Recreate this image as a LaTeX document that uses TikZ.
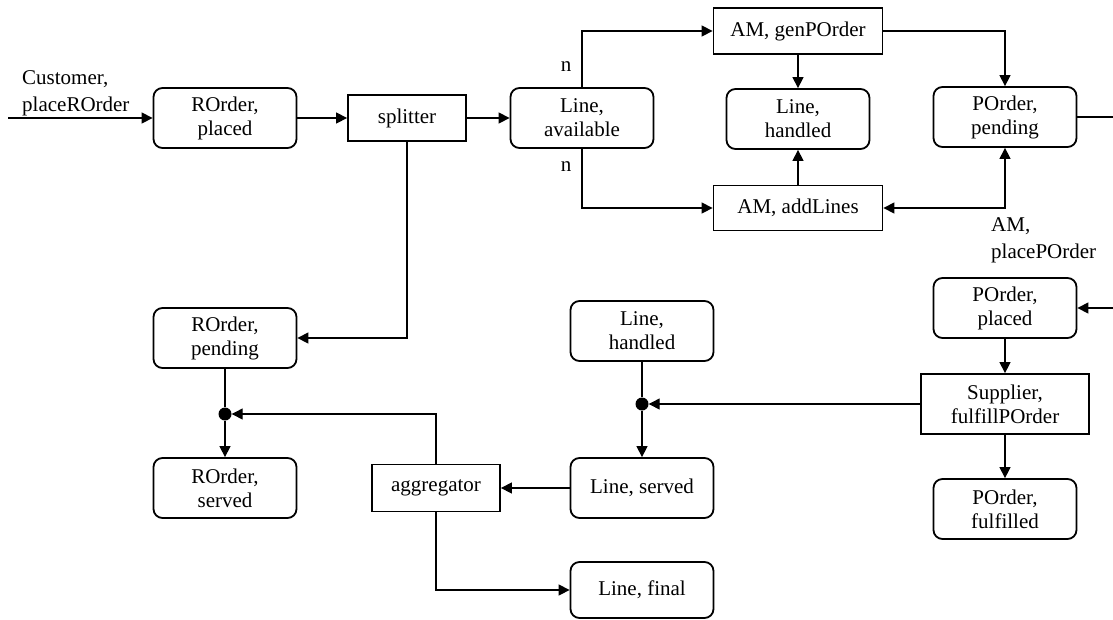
\documentclass[tikz,border=0pt]{standalone}
\usepackage{fontspec}
\setmainfont{Liberation Serif}
\usetikzlibrary{arrows.meta}
\begin{document}
\begin{tikzpicture}[x=1pt,y=-1pt,
  every node/.style={font=\fontsize{21}{24}\selectfont},
  state/.style={draw, line width=1.8pt, rounded corners=9pt, minimum width=143pt, minimum height=60pt, align=center, inner sep=0pt},
  act/.style={draw, line width=1.8pt, minimum height=46pt, align=center, inner sep=0pt},
  conn/.style={line width=1.3pt, -{Triangle[length=11pt,width=11pt]}},
  bidir/.style={line width=1.3pt, {Triangle[length=11pt,width=11pt]}-{Triangle[length=11pt,width=11pt]}},
  plain/.style={line width=1.3pt},
  jdot/.style={circle, fill, inner sep=0pt, minimum size=13pt},
  lbl/.style={align=left, inner sep=0pt, font=\fontsize{21}{27}\selectfont}]
\useasboundingbox (0,0) rectangle (1113,619);
% nodes
\node[state] (rplaced) at (225,118) {ROrder,\\placed};
\node[act, minimum width=118pt] (split) at (407,118) {splitter};
\node[state] (lavail) at (582,118) {Line,\\available};
\node[act, minimum width=169pt] (gen) at (798,31) {AM, genPOrder};
\node[state] (lhand1) at (798,119) {Line,\\handled};
\node[state] (ppend) at (1005,117) {POrder,\\pending};
\node[act, minimum width=169pt, minimum height=45pt] (addl) at (798,208) {AM, addLines};
\node[state] (pplaced) at (1005,308) {POrder,\\placed};
\node[act, minimum width=168pt, minimum height=60pt] (supp) at (1005,404) {Supplier,\\fulfillPOrder};
\node[state] (pfulf) at (1005,509) {POrder,\\fulfilled};
\node[state] (rpend) at (225,338) {ROrder,\\pending};
\node[state] (rserv) at (225,488) {ROrder,\\served};
\node[state] (lhand2) at (642,331) {Line,\\handled};
\node[state] (lserv) at (642,488) {Line, served};
\node[state, minimum height=56pt] (lfinal) at (642,590) {Line, final};
\node[act, minimum width=128pt, minimum height=47pt] (aggr) at (436,488) {aggregator};
\node[jdot] (dot1) at (225,414) {};
\node[jdot] (dot2) at (642,404) {};
\coordinate (in0) at (8,118);
\coordinate (out1) at (1113,117);
\coordinate (in2) at (1113,308);
% labels
\node[lbl, anchor=west] (lcust) at (22,93) {Customer,\\placeROrder};
\node (n1) at (566,67) {n};
\node (n2) at (566,167) {n};
\node[lbl, anchor=west] (lamp) at (991,240) {AM,\\placePOrder};
% connectors
\draw[conn] (in0) -- (rplaced.west);
\draw[conn] (rplaced.east) -- (split.west);
\draw[conn] (split.east) -- (lavail.west);
\draw[conn] (lavail.north) |- (gen.west);
\draw[conn] (lavail.south) |- (addl.west);
\draw[conn] (gen.south) -- (lhand1.north);
\draw[conn] (addl.north) -- (lhand1.south);
\draw[conn] (gen.east) -| (ppend.north);
\draw[bidir] (addl.east) -| (ppend.south);
\draw[plain] (ppend.east) -- (out1);
\draw[conn] (in2) -- (pplaced.east);
\draw[conn] (pplaced.south) -- (supp.north);
\draw[conn] (supp.south) -- (pfulf.north);
\draw[conn] (supp.west) -- (dot2);
\draw[plain] (lhand2.south) -- (dot2);
\draw[conn] (dot2) -- (lserv.north);
\draw[conn] (lserv.west) -- (aggr.east);
\draw[conn] (aggr.north) |- (dot1);
\draw[conn] (aggr.south) |- (lfinal.west);
\draw[conn] (split.south) |- (rpend.east);
\draw[plain] (rpend.south) -- (dot1);
\draw[conn] (dot1) -- (rserv.north);
\end{tikzpicture}
\end{document}
